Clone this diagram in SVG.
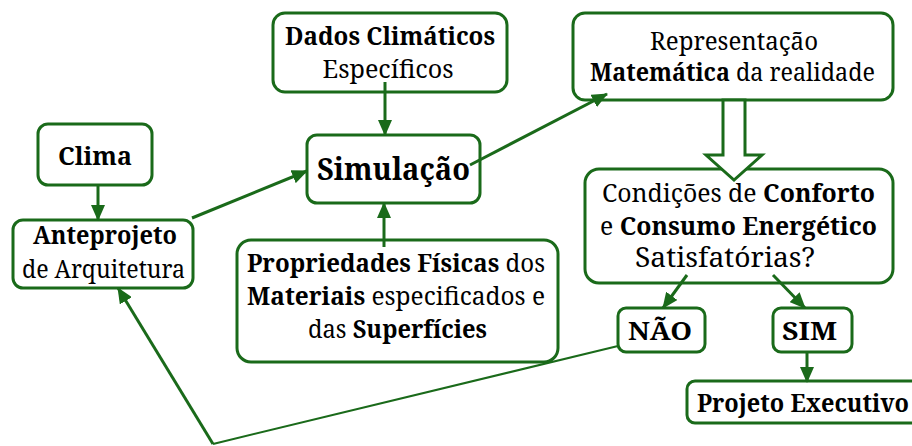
<svg xmlns="http://www.w3.org/2000/svg" width="912" height="446" viewBox="0 0 912 446">
  <style>
    .box { fill: #ffffff; stroke: #1a6a1a; stroke-width: 3; }
    .t { font-family: "Noto Serif", "DejaVu Serif", "Liberation Serif", serif; font-size: 26px; fill: #000; text-anchor: middle; }
    .b { font-weight: bold; }
    .con { stroke: #1a6a1a; stroke-width: 3; fill: none; }
    .thin { stroke: #1a6a1a; stroke-width: 2; fill: none; }
  </style>
  <defs>
    <marker id="arrow" markerUnits="userSpaceOnUse" markerWidth="16" markerHeight="14" refX="15" refY="7" orient="auto">
      <path d="M0,0 L16,7 L0,14 z" fill="#1a6a1a"/>
    </marker>
  </defs>
  <rect width="912" height="446" fill="#ffffff"/>

  <!-- nodes -->
  <g id="clima">
    <rect class="box" x="38" y="124" width="114" height="61" rx="10"/>
    <text class="t b" x="95" y="165" textLength="74" lengthAdjust="spacingAndGlyphs">Clima</text>
  </g>
  <g id="anteprojeto">
    <rect class="box" x="13" y="220" width="180" height="68" rx="10"/>
    <text class="t b" x="105" y="244" textLength="144" lengthAdjust="spacingAndGlyphs">Anteprojeto</text>
    <text class="t" x="103.5" y="278" textLength="163" lengthAdjust="spacingAndGlyphs">de Arquitetura</text>
  </g>
  <g id="dados">
    <rect class="box" x="273" y="13" width="234" height="79" rx="12"/>
    <text class="t b" x="390" y="45" textLength="210" lengthAdjust="spacingAndGlyphs">Dados Climáticos</text>
    <text class="t" x="388" y="78" textLength="131" lengthAdjust="spacingAndGlyphs">Específicos</text>
  </g>
  <g id="simulacao">
    <rect class="box" x="307" y="135" width="173" height="68" rx="10"/>
    <text class="t b" x="393.5" y="180" style="font-size:31.5px" textLength="153" lengthAdjust="spacingAndGlyphs">Simulação</text>
  </g>
  <g id="propriedades">
    <rect class="box" x="237" y="240" width="321" height="122" rx="14"/>
    <text class="t" x="396" y="272" textLength="298" lengthAdjust="spacingAndGlyphs"><tspan class="b">Propriedades Físicas</tspan> dos</text>
    <text class="t" x="396" y="305" textLength="298" lengthAdjust="spacingAndGlyphs"><tspan class="b">Materiais</tspan> especificados e</text>
    <text class="t" x="397.5" y="338" textLength="179" lengthAdjust="spacingAndGlyphs">das <tspan class="b">Superfícies</tspan></text>
  </g>
  <g id="representacao">
    <rect class="box" x="573" y="13" width="320" height="87" rx="12"/>
    <text class="t" x="734" y="50" textLength="168" lengthAdjust="spacingAndGlyphs">Representação</text>
    <text class="t" x="732.5" y="81" textLength="285" lengthAdjust="spacingAndGlyphs"><tspan class="b">Matemática</tspan> da realidade</text>
  </g>
  <g id="condicoes">
    <rect class="box" x="585" y="169" width="308" height="114" rx="14"/>
    <text class="t" x="738.5" y="202" textLength="273" lengthAdjust="spacingAndGlyphs">Condições de <tspan class="b">Conforto</tspan></text>
    <text class="t" x="738.5" y="235" textLength="277" lengthAdjust="spacingAndGlyphs">e <tspan class="b">Consumo Energético</tspan></text>
    <text class="t" x="725" y="267" style="font-size:27px" textLength="180" lengthAdjust="spacingAndGlyphs">Satisfatórias?</text>
  </g>
  <g id="nao">
    <rect class="box" x="618" y="308" width="87" height="44" rx="8"/>
    <text class="t b" x="660" y="340" textLength="64" lengthAdjust="spacingAndGlyphs">NÃO</text>
  </g>
  <g id="sim">
    <rect class="box" x="773" y="308" width="79" height="44" rx="8"/>
    <text class="t b" x="809.5" y="340" textLength="55" lengthAdjust="spacingAndGlyphs">SIM</text>
  </g>
  <g id="projeto-executivo">
    <rect class="box" x="687" y="381" width="240" height="42" rx="8"/>
    <text class="t b" x="803" y="412" textLength="212" lengthAdjust="spacingAndGlyphs">Projeto Executivo</text>
  </g>

  <!-- connectors -->
  <g id="connectors">
    <line class="con" x1="98" y1="185" x2="98" y2="220" marker-end="url(#arrow)"/>
    <line class="con" x1="385" y1="82" x2="385" y2="135" marker-end="url(#arrow)"/>
    <line class="con" x1="384" y1="247" x2="384" y2="203" marker-end="url(#arrow)"/>
    <line class="con" x1="192" y1="218" x2="307" y2="171" marker-end="url(#arrow)"/>
    <line class="con" x1="470" y1="165" x2="607" y2="94" marker-end="url(#arrow)"/>
    <line class="con" x1="687" y1="275" x2="663" y2="308" marker-end="url(#arrow)"/>
    <line class="con" x1="773" y1="275" x2="805" y2="308" marker-end="url(#arrow)"/>
    <line class="con" x1="807" y1="352" x2="807" y2="382" marker-end="url(#arrow)"/>
    <line class="thin" x1="618" y1="346" x2="213" y2="444"/>
    <line class="con" x1="213" y1="444" x2="118" y2="288" marker-end="url(#arrow)"/>
    <!-- hollow block arrow from the model to the evaluation -->
    <path d="M723,100 L745,100 L745,155 L762,155 L734,180 L706,155 L723,155 Z" fill="#ffffff" stroke="#1a6a1a" stroke-width="3" stroke-linejoin="miter"/>
  </g>
</svg>
